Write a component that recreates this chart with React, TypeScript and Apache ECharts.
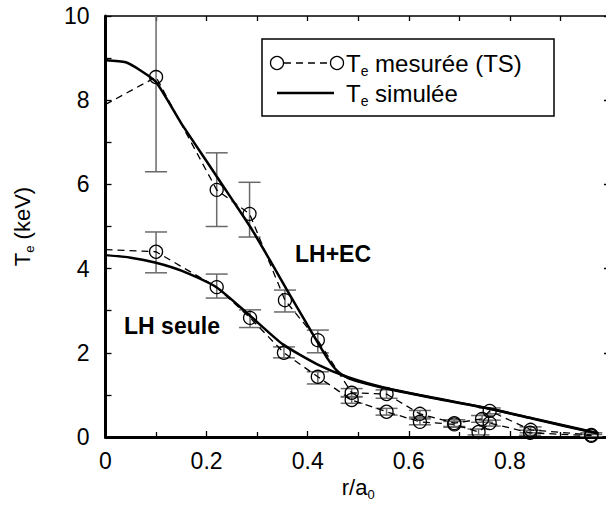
import React, { useEffect, useRef } from "react";
import * as echarts from "echarts";

// ---- data ----
const simEC_r = [0, 0.04, 0.07, 0.1, 0.15, 0.2, 0.25, 0.29, 0.33, 0.36, 0.4, 0.44, 0.46, 0.48, 0.5, 0.56, 0.65, 0.76, 0.85, 0.975];
const simEC_T = [8.95, 8.9, 8.7, 8.43, 7.45, 6.55, 5.65, 4.92, 4.1, 3.47, 2.65, 1.85, 1.55, 1.4, 1.32, 1.14, 0.92, 0.67, 0.42, 0.08];

const simLH_r = [0, 0.05, 0.1, 0.15, 0.22, 0.286, 0.351, 0.42, 0.48, 0.556, 0.65, 0.754, 0.85, 0.975];
const simLH_T = [4.32, 4.26, 4.14, 3.95, 3.55, 2.88, 2.2, 1.72, 1.42, 1.16, 0.93, 0.69, 0.43, 0.09];

const mesEC_r = [0, 0.1, 0.22, 0.285, 0.355, 0.42, 0.487, 0.556, 0.622, 0.69, 0.745, 0.76, 0.841, 0.961];
const mesEC_T = [7.9, 8.55, 5.87, 5.3, 3.25, 2.3, 1.05, 1.02, 0.55, 0.33, 0.43, 0.62, 0.17, 0.05];
const errEC_lo = [null, 6.3, 5.0, 4.75, 2.97, 2.0, 0.95, 0.92, 0.47, 0.25, 0.35, 0.55, 0.1, 0.0];
const errEC_hi = [null, 10.5, 6.75, 6.05, 3.49, 2.54, 1.15, 1.12, 0.63, 0.41, 0.51, 0.69, 0.24, 0.1];

const mesLH_r = [0, 0.1, 0.22, 0.286, 0.353, 0.42, 0.487, 0.556, 0.622, 0.69, 0.738, 0.76, 0.84, 0.961];
const mesLH_T = [4.45, 4.4, 3.56, 2.83, 2.0, 1.43, 0.88, 0.6, 0.36, 0.3, 0.12, 0.33, 0.1, 0.03];
const errLH_lo = [null, 3.9, 3.3, 2.6, 1.88, 1.26, 0.8, 0.52, 0.29, 0.23, 0.05, 0.26, 0.04, 0.0];
const errLH_hi = [null, 4.87, 3.87, 3.02, 2.14, 1.55, 0.96, 0.68, 0.43, 0.37, 0.19, 0.4, 0.16, 0.06];

const xMin = 0, xMax = 1, yMin = 0, yMax = 10;

const FONT = "'Liberation Sans', Arial, sans-serif";

function pairs(xs: number[], ys: number[]) {
  return xs.map((x, i) => [x, ys[i]]);
}
function errData(xs: number[], lo: (number | null)[], hi: (number | null)[]) {
  const out: number[][] = [];
  xs.forEach((x, i) => {
    if (lo[i] != null && hi[i] != null) out.push([x, lo[i] as number, hi[i] as number]);
  });
  return out;
}
function measured(xs: number[], ys: number[]) {
  return xs.map((x, i) => (x === 0 ? { value: [x, ys[i]], symbol: "none" } : { value: [x, ys[i]] }));
}

const errRender = (params: any, api: any) => {
  const x = api.value(0);
  const p1 = api.coord([x, api.value(1)]);
  const p2 = api.coord([x, api.value(2)]);
  const w = 11;
  const st = { stroke: "#6a6a6a", lineWidth: 1.5 };
  return {
    type: "group",
    children: [
      { type: "line", shape: { x1: p1[0], y1: p1[1], x2: p2[0], y2: p2[1] }, style: st },
      { type: "line", shape: { x1: p1[0] - w, y1: p1[1], x2: p1[0] + w, y2: p1[1] }, style: st },
      { type: "line", shape: { x1: p2[0] - w, y1: p2[1], x2: p2[0] + w, y2: p2[1] }, style: st },
    ],
  };
};

const axisRich = {
  a: { fontSize: 22, fontFamily: FONT, color: "#000" },
  b: { fontSize: 13, fontFamily: FONT, color: "#000", padding: [14, 0, 0, 0] },
};
const legendRich = {
  a: { fontSize: 24, fontFamily: FONT, color: "#000" },
  b: { fontSize: 14, fontFamily: FONT, color: "#000", padding: [16, 0, 0, 0] },
};

export default function App() {
  const ref = useRef<HTMLDivElement>(null);
  useEffect(() => {
    document.body.style.margin = "0";
    const chart = echarts.init(ref.current!, null, { renderer: "svg" });
    const measuredStyle = {
      type: "line" as const,
      symbol: "circle",
      symbolSize: 13,
      itemStyle: { color: "rgba(0,0,0,0)", borderColor: "#000", borderWidth: 1.3 },
      lineStyle: { color: "#000", width: 1.3, type: [7, 5] },
      z: 4,
    };
    const simStyle = {
      type: "line" as const,
      smooth: 0.2,
      symbol: "none",
      lineStyle: { color: "#000", width: 2.5 },
      z: 3,
    };
    chart.setOption({
      animation: false,
      backgroundColor: "#fff",
      grid: { left: 105.5, top: 16, bottom: 70, right: -5, outerBoundsMode: "none", containLabel: false },
      xAxis: [
        {
          type: "value",
          min: xMin,
          max: xMax,
          interval: 0.2,
          position: "bottom",
          name: "r/a{s|0}",
          nameLocation: "middle",
          nameGap: 36,
          nameTextStyle: {
            fontSize: 22,
            fontFamily: FONT,
            color: "#000",
            rich: { s: { fontSize: 13, fontFamily: FONT, color: "#000", padding: [14, 0, 0, 0] } },
          },
          axisLine: { show: true, onZero: false, lineStyle: { color: "#000", width: 3 } },
          axisTick: { show: true, inside: true, length: 6, lineStyle: { color: "#000", width: 1.3 } },
          minorTick: { show: true, splitNumber: 2, length: 5, lineStyle: { color: "#000", width: 1.3 } },
          axisLabel: { fontSize: 23, fontFamily: FONT, color: "#000", margin: 12, showMaxLabel: false },
          splitLine: { show: false },
        },
        {
          type: "value",
          min: xMin,
          max: xMax,
          interval: 0.1,
          position: "top",
          axisLine: { show: true, onZero: false, lineStyle: { color: "#000", width: 1.5 } },
          axisTick: { show: true, inside: true, length: 5, lineStyle: { color: "#000", width: 1.3 } },
          axisLabel: { show: false },
          splitLine: { show: false },
        },
      ],
      yAxis: [
        {
          type: "value",
          min: yMin,
          max: yMax,
          interval: 2,
          position: "left",
          name: "{a|T}{b|e}{a| (keV)}",
          nameLocation: "middle",
          nameGap: 70,
          nameRotate: 90,
          nameTextStyle: { rich: axisRich },
          axisLine: { show: true, onZero: false, lineStyle: { color: "#000", width: 3 } },
          axisTick: { show: true, inside: true, length: 6, lineStyle: { color: "#000", width: 1.3 } },
          minorTick: { show: true, splitNumber: 2, length: 6, lineStyle: { color: "#000", width: 1.3 } },
          axisLabel: { fontSize: 23, fontFamily: FONT, color: "#000", margin: 16 },
          splitLine: { show: false },
        },
        {
          type: "value",
          min: yMin,
          max: yMax,
          interval: 2,
          position: "right",
          axisLine: { show: true, onZero: false, lineStyle: { color: "#000", width: 1.5 } },
          axisTick: { show: true, inside: true, length: 7, lineStyle: { color: "#000", width: 1.3 } },
          axisLabel: { show: false },
          splitLine: { show: false },
        },
      ],
      series: [
        {
          type: "custom",
          renderItem: errRender,
          data: errData(mesEC_r, errEC_lo, errEC_hi),
          encode: { x: 0, y: [1, 2] },
          clip: true,
          z: 2,
        },
        {
          type: "custom",
          renderItem: errRender,
          data: errData(mesLH_r, errLH_lo, errLH_hi),
          encode: { x: 0, y: [1, 2] },
          clip: true,
          z: 2,
        },
        { ...simStyle, data: pairs(simEC_r, simEC_T) },
        { ...simStyle, data: pairs(simLH_r, simLH_T) },
        { ...measuredStyle, data: measured(mesEC_r, mesEC_T) },
        { ...measuredStyle, data: measured(mesLH_r, mesLH_T) },
      ],
      graphic: [
        {
          type: "rect",
          shape: { x: 262, y: 39, width: 292, height: 77 },
          style: { fill: "#fff", stroke: "#000", lineWidth: 1.5 },
          z: 10,
        },
        { type: "line", shape: { x1: 284, y1: 63, x2: 331, y2: 63 }, style: { stroke: "#000", lineWidth: 1.3, lineDash: [7, 5] }, z: 11 },
        { type: "circle", shape: { cx: 277, cy: 63, r: 6.5 }, style: { fill: "none", stroke: "#000", lineWidth: 1.3 }, z: 11 },
        { type: "circle", shape: { cx: 337, cy: 63, r: 6.5 }, style: { fill: "none", stroke: "#000", lineWidth: 1.3 }, z: 11 },
        { type: "line", shape: { x1: 277, y1: 93, x2: 334, y2: 93 }, style: { stroke: "#000", lineWidth: 2.5 }, z: 11 },
        {
          type: "text",
          x: 346,
          y: 63,
          style: { text: "{a|T}{b|e}{a| mesurée (TS)}", rich: legendRich, verticalAlign: "middle" },
          z: 11,
        },
        {
          type: "text",
          x: 346,
          y: 93,
          style: { text: "{a|T}{b|e}{a| simulée}", rich: legendRich, verticalAlign: "middle" },
          z: 11,
        },
        {
          type: "text",
          x: 333,
          y: 254,
          style: { text: "LH+EC", font: `bold 23px ${FONT}`, fill: "#000", align: "center", verticalAlign: "middle" },
          z: 11,
        },
        {
          type: "text",
          x: 172,
          y: 326,
          style: { text: "LH seule", font: `bold 23px ${FONT}`, fill: "#000", align: "center", verticalAlign: "middle" },
          z: 11,
        },
      ],
    });
    return () => chart.dispose();
  }, []);
  return <div ref={ref} style={{ width: 606, height: 507 }} />;
}
